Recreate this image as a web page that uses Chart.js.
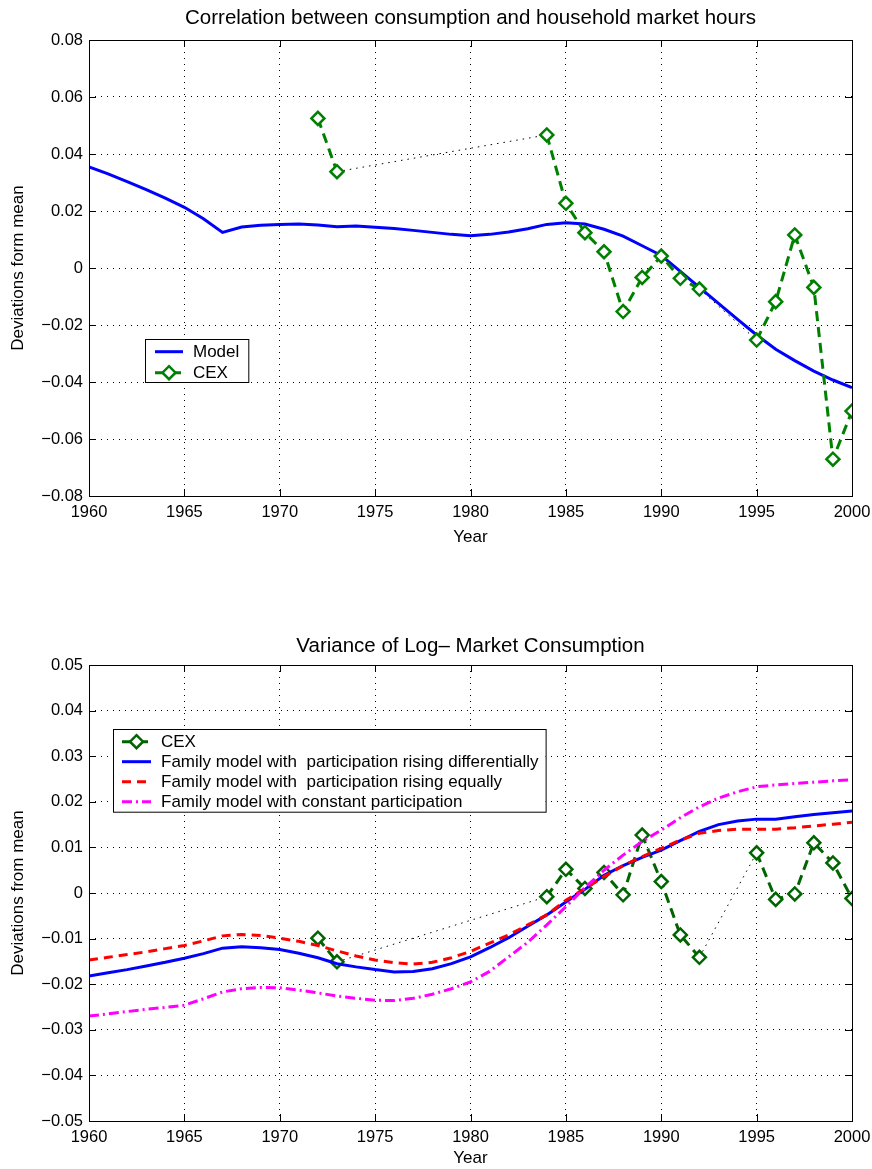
<!DOCTYPE html>
<html><head><meta charset="utf-8">
<script src="https://cdn.jsdelivr.net/npm/chart.js@4.4.1/dist/chart.umd.min.js"></script>
<style>
html,body{margin:0;padding:0;background:#fff;}
#wrap{position:relative;width:872px;height:1169px;}
canvas{position:absolute;left:0;}
</style></head><body>
<div id="wrap">
<canvas id="c1" width="872" height="584" style="top:0px"></canvas>
<canvas id="c2" width="872" height="585" style="top:584px"></canvas>
</div>
<script>
// ---------------- DATA ----------------
const years = [1960,1961,1962,1963,1964,1965,1966,1967,1968,1969,
               1970,1971,1972,1973,1974,1975,1976,1977,1978,1979,
               1980,1981,1982,1983,1984,1985,1986,1987,1988,1989,
               1990,1991,1992,1993,1994,1995,1996,1997,1998,1999,2000];

// Top panel: correlation between consumption and household market hours
const modelCorr = [0.0355,0.0330,0.0303,0.0275,0.0245,0.0213,0.0173,0.0125,0.0144,0.0150,
                   0.0153,0.0154,0.0151,0.0145,0.0147,0.0143,0.0139,0.0132,0.0125,0.0118,
                   0.0113,0.0118,0.0126,0.0138,0.0153,0.0159,0.0154,0.0136,0.0112,0.0078,
                   0.0044,-0.0012,-0.0068,-0.0124,-0.0180,-0.0235,-0.0285,-0.0325,-0.0362,-0.0393,
                   -0.0420];
const cexYears = [1972,1973,1984,1985,1986,1987,1988,1989,1990,1991,1992,1995,1996,1997,1998,1999,2000];
const cexCorr  = [0.0525,0.0338,0.0467,0.0227,0.0124,0.0057,-0.0153,-0.0033,0.0042,-0.0036,-0.0074,
                  -0.0253,-0.0118,0.0116,-0.0068,-0.0671,-0.0502];

// Bottom panel: variance of log market consumption
const cexVar   = [-0.0099,-0.0151,-0.0008,0.0052,0.0010,0.0045,-0.0004,0.0127,0.0025,-0.0092,-0.0141,
                  0.0088,-0.0014,-0.0002,0.0110,0.0066,-0.0012];
const famDiff  = [-0.0182,-0.0175,-0.0168,-0.0160,-0.0152,-0.0143,-0.0133,-0.0121,-0.0118,-0.0120,
                  -0.0124,-0.0132,-0.0142,-0.0155,-0.0162,-0.0168,-0.0173,-0.0172,-0.0166,-0.0155,
                  -0.0140,-0.0120,-0.0098,-0.0073,-0.0048,-0.0020,0.0008,0.0039,0.0060,0.0078,
                  0.0094,0.0115,0.0135,0.0150,0.0158,0.0162,0.0162,0.0167,0.0172,0.0176,
                  0.0180];
const famEqual = [-0.0147,-0.0141,-0.0135,-0.0129,-0.0122,-0.0115,-0.0105,-0.0094,-0.0091,-0.0093,
                  -0.0099,-0.0106,-0.0115,-0.0127,-0.0138,-0.0147,-0.0153,-0.0156,-0.0152,-0.0142,
                  -0.0128,-0.0110,-0.0092,-0.0070,-0.0048,-0.0016,0.0010,0.0036,0.0060,0.0080,
                  0.0098,0.0116,0.0131,0.0137,0.0140,0.0140,0.0140,0.0143,0.0147,0.0151,
                  0.0155];
const famConst = [-0.0270,-0.0265,-0.0260,-0.0255,-0.0251,-0.0246,-0.0232,-0.0217,-0.0210,-0.0207,
                  -0.0208,-0.0213,-0.0219,-0.0226,-0.0231,-0.0235,-0.0236,-0.0231,-0.0222,-0.0210,
                  -0.0195,-0.0172,-0.0140,-0.0108,-0.0070,-0.0030,0.0012,0.0050,0.0083,0.0113,
                  0.0138,0.0165,0.0189,0.0208,0.0222,0.0233,0.0237,0.0240,0.0243,0.0246,
                  0.0248];

// Ticks
const xTicks = [1960,1965,1970,1975,1980,1985,1990,1995,2000];
const yTicksTop = [-0.08,-0.06,-0.04,-0.02,0,0.02,0.04,0.06,0.08];
const yTickLabelsTop = ['\u22120.08','\u22120.06','\u22120.04','\u22120.02','0','0.02','0.04','0.06','0.08'];
const yTicksBot = [-0.05,-0.04,-0.03,-0.02,-0.01,0,0.01,0.02,0.03,0.04,0.05];
const yTickLabelsBot = ['\u22120.05','\u22120.04','\u22120.03','\u22120.02','\u22120.01','0','0.01','0.02','0.03','0.04','0.05'];

// ---------------- HELPERS ----------------
const FONT = '"Liberation Sans", Arial, Helvetica, sans-serif';
function series(xs, ys){ return xs.map((x,i)=>({x:x, y:ys[i]})); }
// CEX with breaks where years are missing
function withBreaks(xs, ys){
  const out=[];
  for(let i=0;i<xs.length;i++){
    if(i>0 && xs[i]-xs[i-1]>1) out.push({x:(xs[i]+xs[i-1])/2, y:null});
    out.push({x:xs[i], y:ys[i]});
  }
  return out;
}
// Dotted links across the missing years
function gapLinks(xs, ys){
  const out=[];
  for(let i=1;i<xs.length;i++){
    if(xs[i]-xs[i-1]>1){
      if(out.length) out.push({x:(xs[i-1]+out[out.length-1].x)/2, y:null});
      out.push({x:xs[i-1], y:ys[i-1]});
      out.push({x:xs[i], y:ys[i]});
    }
  }
  return out;
}
function drawDiamond(ctx, x, y, r, color, lw){
  ctx.save();
  ctx.setLineDash([]);
  ctx.lineWidth = lw; ctx.strokeStyle = color; ctx.fillStyle = '#fff';
  ctx.beginPath();
  ctx.moveTo(x, y-r); ctx.lineTo(x+r, y); ctx.lineTo(x, y+r); ctx.lineTo(x-r, y); ctx.closePath();
  ctx.fill(); ctx.stroke();
  ctx.restore();
}

// Box + inward tick marks (MATLAB style)
const boxPlugin = {
  id:'matlabBox',
  afterDatasetsDraw(chart){
    const {ctx, chartArea:a, scales} = chart;
    ctx.save();
    ctx.strokeStyle = '#000'; ctx.lineWidth = 1; ctx.setLineDash([]);
    ctx.strokeRect(Math.round(a.left)+0.5, Math.round(a.top)+0.5, Math.round(a.right-a.left), Math.round(a.bottom-a.top));
    const L = 7;
    ctx.beginPath();
    scales.x.ticks.forEach(t=>{
      const px = Math.round(scales.x.getPixelForValue(t.value))+0.5;
      ctx.moveTo(px, a.bottom); ctx.lineTo(px, a.bottom-L);
      ctx.moveTo(px, a.top); ctx.lineTo(px, a.top+L);
    });
    scales.y.ticks.forEach(t=>{
      const py = Math.round(scales.y.getPixelForValue(t.value))+0.5;
      ctx.moveTo(a.left, py); ctx.lineTo(a.left+L, py);
      ctx.moveTo(a.right, py); ctx.lineTo(a.right-L, py);
    });
    ctx.stroke();
    ctx.restore();
  }
};

// Legend drawn inside the plot area
const insideLegend = {
  id:'insideLegend',
  afterDraw(chart, args, opts){
    const ctx = chart.ctx;
    const items = chart.data.datasets.filter(d=>d.label && !d.noLegend);
    ctx.save();
    ctx.font = opts.fontSize + 'px ' + FONT;
    let tw = 0;
    items.forEach(d=>{ tw = Math.max(tw, ctx.measureText(d.label).width); });
    const x0 = opts.x, y0 = opts.y;
    const w = opts.padL + opts.sample + opts.gap + tw + opts.padR;
    const h = opts.firstRow + (items.length-1)*opts.rowH + opts.lastPad;
    ctx.fillStyle = '#fff';
    ctx.fillRect(x0, y0, w, h);
    ctx.strokeStyle = '#000'; ctx.lineWidth = 1;
    ctx.strokeRect(x0+0.5, y0+0.5, w, h);
    items.forEach((d,i)=>{
      const y = y0 + opts.firstRow + i*opts.rowH;
      const sx = x0 + opts.padL;
      ctx.save();
      ctx.strokeStyle = d.borderColor; ctx.lineWidth = d.borderWidth;
      ctx.setLineDash(d.borderDash || []);
      ctx.beginPath(); ctx.moveTo(sx, y); ctx.lineTo(sx+opts.sample, y); ctx.stroke();
      ctx.restore();
      if(d.pointRadius>0) drawDiamond(ctx, sx+opts.sample/2, y, d.pointRadius, d.pointBorderColor, d.pointBorderWidth);
      ctx.fillStyle = '#000'; ctx.textBaseline = 'middle'; ctx.textAlign = 'left';
      ctx.fillText(d.label, sx + opts.sample + opts.gap, y+1);
    });
    ctx.restore();
  }
};

function makeOptions(cfg){
  return {
    responsive:false, animation:false, devicePixelRatio:1,
    layout:{padding:{left:0,right:20,top:0,bottom:0}},
    plugins:{
      legend:{display:false}, tooltip:{enabled:false},
      title:{display:true, fullSize:false, text:cfg.title, color:'#000',
             font:{family:FONT, size:20.5, weight:'normal'}, padding:cfg.titlePad},
      insideLegend: cfg.legend
    },
    scales:{
      x:{type:'linear', min:1960, max:2000,
         afterBuildTicks:(s)=>{ s.ticks = xTicks.map(v=>({value:v})); },
         afterFit:(s)=>{ s.height = cfg.xAxisH; },
         ticks:{color:'#000', padding:0, font:{family:FONT,size:16.5}, callback:(v)=>String(v), maxRotation:0},
         grid:{color:'#000', lineWidth:1, drawTicks:true, tickLength:7, tickColor:'rgba(0,0,0,0)'},
         border:{display:false, dash:[1,5]},
         title:{display:true, text:'Year', color:'#000', font:{family:FONT,size:17}, padding:{top:0,bottom:cfg.xTitleBottom}}
      },
      y:{min:cfg.yTicks[0], max:cfg.yTicks[cfg.yTicks.length-1],
         afterBuildTicks:(s)=>{ s.ticks = cfg.yTicks.map(v=>({value:v})); },
         afterFit:(s)=>{ s.width = 89; },
         ticks:{color:'#000', padding:6, font:{family:FONT,size:16.5}, callback:(v,i)=>cfg.yLabels[i]},
         grid:{color:'#000', lineWidth:1, drawTicks:false},
         border:{display:false, dash:[1,5]},
         title:{display:true, text:cfg.yTitle, color:'#000', font:{family:FONT,size:17}, padding:{top:7.8,bottom:0}}
      }
    }
  };
}

// ---------------- TOP CHART ----------------
const green1 = '#008000';
new Chart(document.getElementById('c1'), {
  type:'line',
  data:{datasets:[
    {label:'Model', data:series(years, modelCorr), borderColor:'#0000ff', borderWidth:3,
     pointRadius:0, tension:0, order:1},
    {label:'CEX', data:withBreaks(cexYears, cexCorr), borderColor:green1, borderWidth:3, borderDash:[10,6],
     pointStyle:'rectRot', pointRadius:6.5, pointBorderColor:green1, pointBackgroundColor:'#fff', pointBorderWidth:2.5,
     spanGaps:false, tension:0, order:0},
    {label:'', noLegend:true, data:gapLinks(cexYears, cexCorr), borderColor:'#000', borderWidth:1, borderDash:[1.5,5],
     pointRadius:0, spanGaps:false, tension:0, order:2}
  ]},
  options: makeOptions({
    title:'Correlation between consumption and household market hours',
    titlePad:{top:5.7,bottom:9.7}, xAxisH:88, xTitleBottom:36.8,
    yTicks:yTicksTop, yLabels:yTickLabelsTop, yTitle:'Deviations form mean',
    legend:{x:145, y:339, fontSize:17, padL:10, sample:28, gap:10, padR:9, firstRow:12.7, rowH:21, lastPad:9.3}
  }),
  plugins:[boxPlugin, insideLegend]
});

// ---------------- BOTTOM CHART ----------------
const green2 = '#006400';
new Chart(document.getElementById('c2'), {
  type:'line',
  data:{datasets:[
    {label:'CEX', data:withBreaks(cexYears, cexVar), borderColor:green2, borderWidth:3, borderDash:[10,6],
     pointStyle:'rectRot', pointRadius:6.5, pointBorderColor:green2, pointBackgroundColor:'#fff', pointBorderWidth:2.5,
     spanGaps:false, tension:0, order:4},
    {label:'Family model with  participation rising differentially', data:series(years, famDiff),
     borderColor:'#0000ff', borderWidth:3, pointRadius:0, tension:0, order:3},
    {label:'Family model with  participation rising equally', data:series(years, famEqual),
     borderColor:'#ff0000', borderWidth:3, borderDash:[9,6], pointRadius:0, tension:0, order:2},
    {label:'Family model with constant participation', data:series(years, famConst),
     borderColor:'#ff00ff', borderWidth:3, borderDash:[10,4,2,4], pointRadius:0, tension:0, order:1},
    {label:'', noLegend:true, data:gapLinks(cexYears, cexVar), borderColor:'#000', borderWidth:1, borderDash:[1.5,5],
     pointRadius:0, spanGaps:false, tension:0, order:5}
  ]},
  options: makeOptions({
    title:'Variance of Log\u2013 Market Consumption',
    titlePad:{top:49.7,bottom:6.7}, xAxisH:48, xTitleBottom:0,
    yTicks:yTicksBot, yLabels:yTickLabelsBot, yTitle:'Deviations from mean',
    legend:{x:113, y:145, fontSize:17, padL:9, sample:29, gap:10, padR:7, firstRow:12.7, rowH:20, lastPad:10}
  }),
  plugins:[boxPlugin, insideLegend]
});
</script>
</body></html>
